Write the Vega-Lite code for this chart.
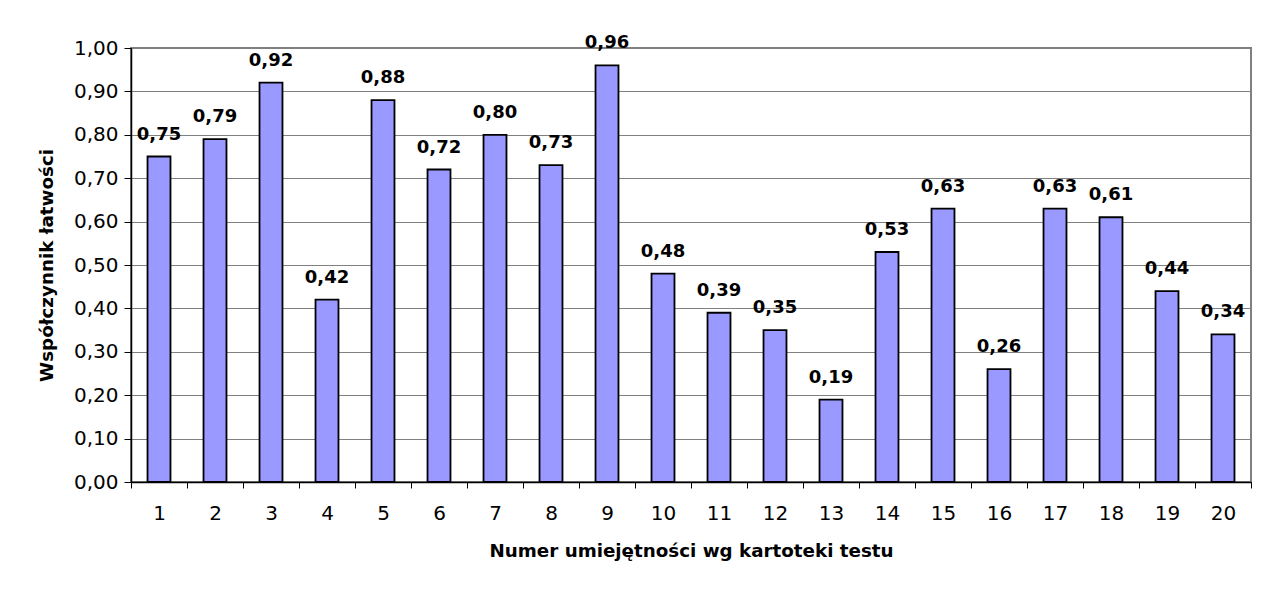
{
  "$schema": "https://vega.github.io/schema/vega-lite/v6.json",
  "width": 1120,
  "height": 434,
  "autosize": {"type": "none"},
  "padding": {"left": 131, "top": 48, "right": 16, "bottom": 107},
  "background": "white",
  "data": {
    "values": [
      {"nr": "1", "v": 0.75},
      {"nr": "2", "v": 0.79},
      {"nr": "3", "v": 0.92},
      {"nr": "4", "v": 0.42},
      {"nr": "5", "v": 0.88},
      {"nr": "6", "v": 0.72},
      {"nr": "7", "v": 0.80},
      {"nr": "8", "v": 0.73},
      {"nr": "9", "v": 0.96},
      {"nr": "10", "v": 0.48},
      {"nr": "11", "v": 0.39},
      {"nr": "12", "v": 0.35},
      {"nr": "13", "v": 0.19},
      {"nr": "14", "v": 0.53},
      {"nr": "15", "v": 0.63},
      {"nr": "16", "v": 0.26},
      {"nr": "17", "v": 0.63},
      {"nr": "18", "v": 0.61},
      {"nr": "19", "v": 0.44},
      {"nr": "20", "v": 0.34}
    ]
  },
  "encoding": {
    "x": {
      "field": "nr",
      "type": "ordinal",
      "sort": null,
      "scale": {"paddingInner": 0, "paddingOuter": 0},
      "axis": {
        "title": "Numer umiejętności wg kartoteki testu",
        "labelAngle": 0,
        "tickBand": "extent",
        "tickSize": 6,
        "tickColor": "black",
        "domainColor": "black",
        "domainWidth": 1.5,
        "labelPadding": 15,
        "labelFont": "DejaVu Sans",
        "labelFontSize": 20,
        "labelColor": "black",
        "titleFont": "DejaVu Sans",
        "titleFontSize": 18.3,
        "titleFontWeight": "bold",
        "titleColor": "black",
        "titlePadding": 19,
        "grid": false
      }
    },
    "y": {
      "field": "v",
      "type": "quantitative",
      "scale": {"domain": [0, 1], "nice": false},
      "axis": {
        "title": "Współczynnik łatwości",
        "values": [0, 0.1, 0.2, 0.3, 0.4, 0.5, 0.6, 0.7, 0.8, 0.9, 1.0],
        "format": ".2f",
        "tickSize": 7,
        "tickColor": "black",
        "domainColor": "black",
        "domainWidth": 1.5,
        "labelPadding": 6,
        "labelFont": "DejaVu Sans",
        "labelFontSize": 20,
        "labelColor": "black",
        "titleFont": "DejaVu Sans",
        "titleFontSize": 18.3,
        "titleFontWeight": "bold",
        "titleColor": "black",
        "titlePadding": 17,
        "grid": true,
        "gridColor": "#808080",
        "gridWidth": 1.2
      }
    }
  },
  "layer": [
    {
      "mark": {
        "type": "bar",
        "fill": "#9999FF",
        "stroke": "black",
        "strokeWidth": 1.8,
        "width": {"band": 0.41}
      }
    },
    {
      "mark": {
        "type": "text",
        "font": "DejaVu Sans",
        "fontSize": 18,
        "fontWeight": "bold",
        "color": "black",
        "baseline": "alphabetic",
        "dy": -17
      },
      "encoding": {
        "text": {"field": "v", "type": "quantitative", "format": ".2f"}
      }
    }
  ],
  "config": {
    "locale": {
      "number": {
        "decimal": ",",
        "thousands": " ",
        "grouping": [3],
        "currency": ["", " zł"]
      }
    },
    "view": {"stroke": "#808080", "strokeWidth": 2}
  }
}
